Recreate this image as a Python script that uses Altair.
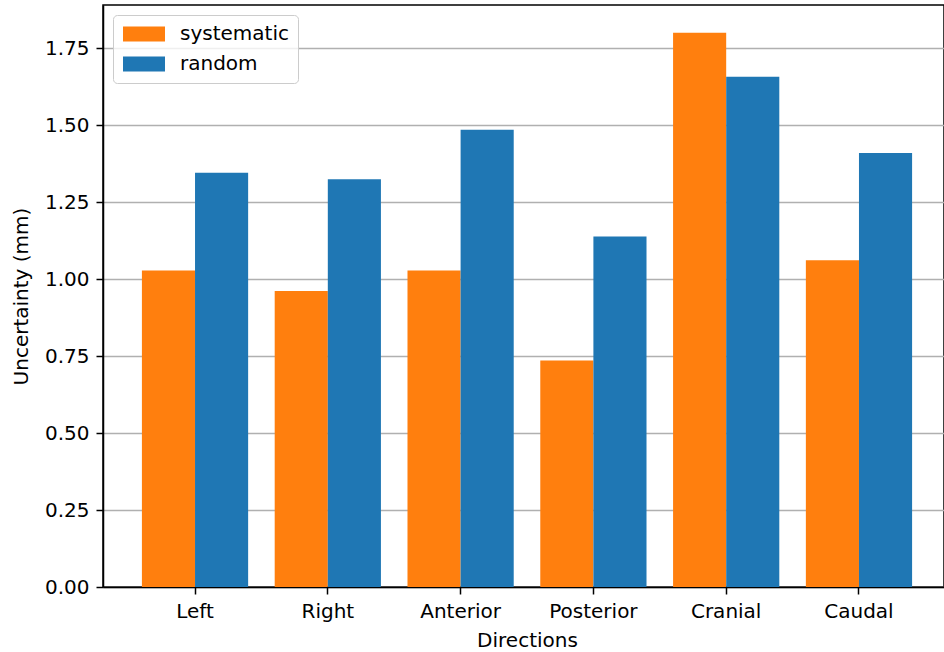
import altair as alt
import pandas as pd

# Measurement uncertainty per direction (mm)
directions = ["Left", "Right", "Anterior", "Posterior", "Cranial", "Caudal"]
systematic = [1.028, 0.962, 1.028, 0.736, 1.801, 1.062]
random_err = [1.346, 1.325, 1.486, 1.139, 1.658, 1.410]
series = ["systematic", "random"]
colors = ["#ff7f0e", "#1f77b4"]
y_ticks = [0.0, 0.25, 0.5, 0.75, 1.0, 1.25, 1.5, 1.75]

rows = []
for d, s, r in zip(directions, systematic, random_err):
    rows.append({"direction": d, "kind": "systematic", "value": s})
    rows.append({"direction": d, "kind": "random", "value": r})
df = pd.DataFrame(rows)

FONT = "DejaVu Sans"
# wide flat legend swatch (42 x 15 px at size 225)
swatch = "M-2.8,-1L2.8,-1L2.8,1L-2.8,1Z"

bars = alt.Chart(df).mark_bar().encode(
    x=alt.X(
        "direction:N",
        sort=directions,
        scale=alt.Scale(paddingInner=0.2, paddingOuter=0.293, rangeMax=848),
        axis=alt.Axis(
            title="Directions",
            labelAngle=0,
            grid=False,
            titleX=424,
            titleY=59,
            titleBaseline="alphabetic",
            labelBaseline="alphabetic",
            labelPadding=23,
        ),
    ),
    xOffset=alt.XOffset("kind:N", sort=series, scale=alt.Scale(paddingInner=0, paddingOuter=0)),
    y=alt.Y(
        "value:Q",
        scale=alt.Scale(domain=[0, 1.891], nice=False, zero=True),
        axis=alt.Axis(
            title="Uncertainty (mm)",
            values=y_ticks,
            format=".2f",
            grid=True,
            titleX=-82,
            titleY=291,
            titleBaseline="middle",
            titleAngle=270,
            labelPadding=7,
        ),
    ),
    color=alt.Color(
        "kind:N",
        sort=series,
        scale=alt.Scale(domain=series, range=colors),
        legend=alt.Legend(
            title=None,
            orient="none",
            legendX=10,
            legendY=10,
            symbolType=swatch,
            symbolSize=225,
            symbolOffset=12,
            symbolStrokeWidth=0,
            labelOffset=26,
            labelFontSize=20,
            labelFont=FONT,
            labelColor="black",
            padding=9,
            rowPadding=10,
            strokeColor="#cccccc",
            fillColor="rgba(255,255,255,0.8)",
            cornerRadius=4,
        ),
    ),
)

chart = bars.properties(
    width=841,
    height=582,
    background="white",
    autosize=alt.AutoSizeParams(type="none"),
    padding={"left": 103, "top": 5, "right": 0, "bottom": 65},
).configure_view(
    stroke="black", strokeWidth=1.5
).configure_axis(
    zindex=1,
    domainColor="black",
    domainWidth=1.5,
    tickColor="black",
    tickWidth=1.5,
    tickSize=7,
    gridColor="#b0b0b0",
    gridWidth=1.5,
    labelFont=FONT,
    labelFontSize=20,
    labelColor="black",
    titleFont=FONT,
    titleFontSize=20,
    titleFontWeight="normal",
    titleColor="black",
)

chart.save("out.html", embed_options={"renderer": "svg", "actions": False})
